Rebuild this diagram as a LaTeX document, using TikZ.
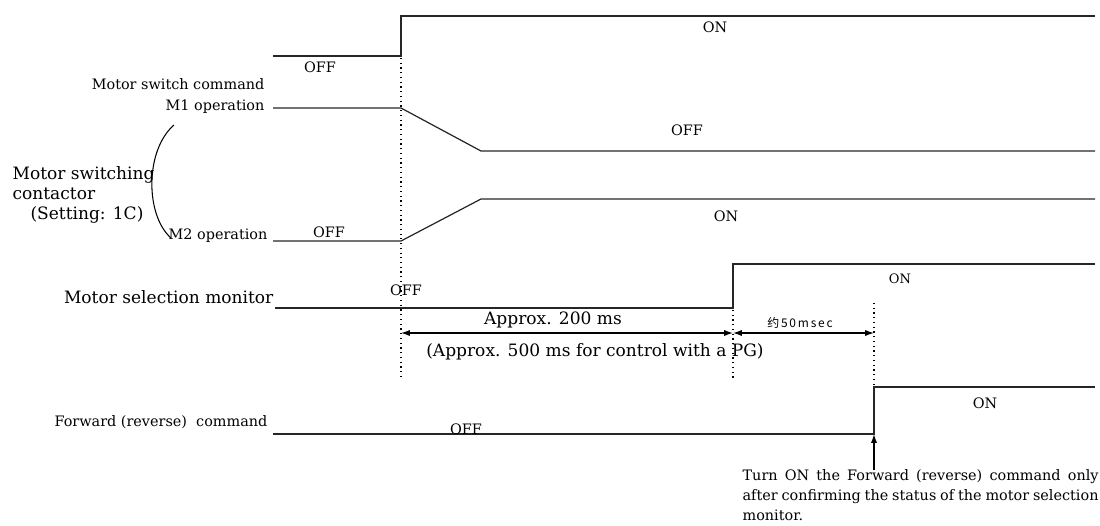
\documentclass[tikz,border=0pt]{standalone}
\usepackage{fontspec}
\setmainfont{DejaVu Serif}
\newfontfamily\cjkfont[LetterSpace=15]{Noto Sans CJK SC}
\usetikzlibrary{arrows.meta}

\begin{document}
\begin{tikzpicture}[x=0.02cm, y=-0.02cm, line width=0.7pt,
	every node/.style={inner sep=0pt},
	sigline/.style={draw=black!85},
	txtsmall/.style={font=\fontsize{8.2}{11.4}\selectfont},
	txtbig/.style={font=\fontsize{9.7}{11.4}\selectfont},
	guideline/.style={dotted, line width=0.7pt},
	timespan/.style={{Latex[length=5pt,width=3.5pt]}-{Latex[length=5pt,width=3.5pt]}}]
	\useasboundingbox (0,0) rectangle (1100,525);
	% signal names
	\node[txtsmall, anchor=east] (cmd) at (265,84) {Motor switch command};
	\node[txtsmall, anchor=east] (mone) at (265,107) {M1 operation};
	\node[txtsmall, anchor=east] (mtwo) at (268,236) {M2 operation};
	\node[txtbig, anchor=west, align=left] (contactor) at (12,195) {Motor switching\\contactor\\\hspace*{1.05em}(Setting: 1C)};
	\draw[line width=0.6pt] (174,125) .. controls (145,150) and (145,215) .. (171,238);
	\node[txtbig, anchor=east] (monitor) at (274,297) {Motor selection monitor};
	\node[txtsmall, anchor=east] (fwd) at (268,422) {Forward (reverse)\ \ command};
	% waveforms
	\draw[sigline] (273,56) -- (401,56) -- (401,16) -- (1095,16);
	\draw[sigline] (273,108) -- (401,108) -- (481,151) -- (1095,151);
	\draw[sigline] (273,241) -- (401,241) -- (481,199) -- (1095,199);
	\draw[sigline] (275,308) -- (733,308) -- (733,264) -- (1095,264);
	\draw[sigline] (273,434) -- (874,434) -- (874,387) -- (1095,387);
	% states
	\node[txtsmall] (cmdoff) at (320,67) {OFF};
	\node[txtsmall] (cmdon) at (715,27) {ON};
	\node[txtsmall] (moneoff) at (687,130) {OFF};
	\node[txtsmall] (mtwooff) at (329,232) {OFF};
	\node[txtsmall] (mtwoon) at (726,216) {ON};
	\node[txtsmall] (monoff) at (406,290) {OFF};
	\node[font=\fontsize{7.4}{9}\selectfont] (monon) at (900,279) {ON};
	\node[txtsmall] (fwdoff) at (466,429) {OFF};
	\node[txtsmall] (fwdon) at (985,403) {ON};
	% timing
	\draw[guideline] (401,58) -- (401,380);
	\draw[guideline] (733,310) -- (733,380);
	\draw[guideline] (874,303) -- (874,384);
	\coordinate (ta) at (401,333);
	\coordinate (tb) at (733,333);
	\coordinate (tc) at (874,333);
	\draw[timespan] (ta) -- (tb);
	\draw[timespan] (tb) -- (tc);
	\node[txtbig] (approx) at (553,320) {Approx. 200 ms};
	\node[txtbig] (approxpg) at (595,352) {(Approx. 500 ms for control with a PG)};
	\node[font=\cjkfont\fontsize{6.8}{8}\selectfont] (fifty) at (800,323) {约50msec};
	% note
	\coordinate (rise) at (874,434);
	\coordinate (notetip) at (874,470);
	\draw[-{Latex[length=5pt,width=3.5pt]}] (notetip) -- (rise);
	\node[txtsmall, anchor=north west, text width=7.12cm, align=justify] (note) at (742,469)
		{Turn ON the Forward (reverse) command only\linebreak after confirming the status of the motor selection\linebreak monitor.};
\end{tikzpicture}
\end{document}
